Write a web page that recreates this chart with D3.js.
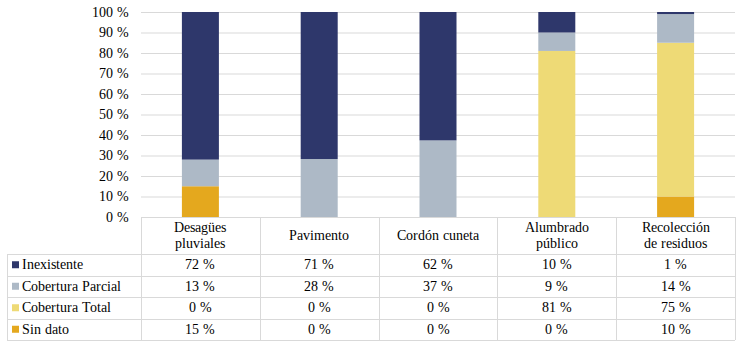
<!DOCTYPE html>
<html lang="es">
<head>
<meta charset="UTF-8">
<title>Cobertura de servicios</title>
<script src="https://cdn.jsdelivr.net/npm/d3@7"></script>
<style>
  @font-face { font-family: "ChartSerif"; src: local("Liberation Serif"), local("LiberationSerif-Regular"), local("DejaVu Serif"), local("DejaVuSerif"); }
  body { margin: 0; background: #fff; }
</style>
</head>
<body>
<svg width="738" height="353"></svg>
<script>
// categorias (dos lineas en la cabecera de la tabla)
var categories = ['Desagües pluviales', 'Pavimento', 'Cordón cuneta', 'Alumbrado público', 'Recolección de residuos'];
var headerLines = [['Desagües', 'pluviales'], ['Pavimento'], ['Cordón cuneta'], ['Alumbrado', 'público'], ['Recolección', 'de residuos']];
var seriesNames = ['Inexistente', 'Cobertura Parcial', 'Cobertura Total', 'Sin dato'];
var inexistente = [72, 71, 62, 10, 1];
var coberturaParcial = [13, 28, 37, 9, 14];
var coberturaTotal = [0, 0, 0, 81, 75];
var sinDato = [15, 0, 0, 0, 10];
var yTicks = [0, 10, 20, 30, 40, 50, 60, 70, 80, 90, 100];
var colors = ['#2e376b', '#adb9c6', '#eeda76', '#e4a81e'];

var seriesValues = [inexistente, coberturaParcial, coberturaTotal, sinDato];

var svg = d3.select('svg');
var plotLeft = 141, plotRight = 735, plotTop = 12, plotBottom = 217;
var tableLeft = 7;
var headerBottom = 254, rowH = 21.5;
var fontStack = 'ChartSerif, "Liberation Serif", "DejaVu Serif", serif';

var x = d3.scaleBand().domain(categories).range([plotLeft, plotRight]).paddingInner(0).paddingOuter(0);
var y = d3.scaleLinear().domain([0, 100]).range([plotBottom, plotTop]);
var barW = 37;

function label(sel) {
  return sel.style('font-family', fontStack).style('fill', '#000');
}

// lineas de cuadricula
svg.append('g').selectAll('line').data(yTicks.filter(function(d){ return d > 0; })).enter()
  .append('line')
  .attr('x1', plotLeft).attr('x2', plotRight)
  .attr('y1', function(d){ return y(d) + 0.5; }).attr('y2', function(d){ return y(d) + 0.5; })
  .attr('stroke', '#d9d9d9').attr('stroke-width', 1);

// etiquetas eje y
svg.append('g').selectAll('text').data(yTicks).enter()
  .append('text')
  .attr('x', 129).attr('y', function(d){ return y(d) + 4.5; })
  .attr('text-anchor', 'end').style('font-size', '13.5px')
  .call(label)
  .text(function(d){ return d + ' %'; });

// datos apilados al 100 %: de abajo hacia arriba Sin dato, Total, Parcial, Inexistente
var table = categories.map(function(c, i){
  var o = { cat: c };
  seriesNames.forEach(function(s, j){ o[s] = seriesValues[j][i]; });
  return o;
});
var stack = d3.stack().keys(seriesNames.slice().reverse()).offset(d3.stackOffsetExpand);
var stacked = stack(table);

svg.append('g').selectAll('g').data(stacked).enter()
  .append('g')
  .attr('fill', function(d){ return colors[seriesNames.indexOf(d.key)]; })
  .selectAll('rect').data(function(d){ return d; }).enter()
  .append('rect')
  .attr('x', function(d){ return x(d.data.cat) + x.bandwidth() / 2 - barW / 2; })
  .attr('width', barW)
  .attr('y', function(d){ return y(d[1] * 100); })
  .attr('height', function(d){ return y(d[0] * 100) - y(d[1] * 100); });

// tabla de datos
var grid = svg.append('g').attr('stroke', '#d9d9d9').attr('stroke-width', 1);
var tableBottom = headerBottom + rowH * 4;
grid.append('line').attr('x1', plotLeft).attr('x2', plotRight).attr('y1', plotBottom + 0.5).attr('y2', plotBottom + 0.5);
for (var r = 0; r <= 4; r++) {
  var yy = Math.round(headerBottom + r * rowH) + 0.5;
  grid.append('line').attr('x1', tableLeft).attr('x2', plotRight).attr('y1', yy).attr('y2', yy);
}
grid.append('line').attr('x1', tableLeft + 0.5).attr('x2', tableLeft + 0.5).attr('y1', headerBottom).attr('y2', tableBottom);
categories.forEach(function(c){
  var xx = Math.round(x(c)) + 0.5;
  grid.append('line').attr('x1', xx).attr('x2', xx).attr('y1', plotBottom).attr('y2', tableBottom);
});
grid.append('line').attr('x1', plotRight + 0.5).attr('x2', plotRight + 0.5).attr('y1', plotBottom).attr('y2', tableBottom);

// cabecera
categories.forEach(function(c, i){
  var lines = headerLines[i];
  var cx = x(c) + x.bandwidth() / 2;
  var cy = (plotBottom + headerBottom) / 2;
  lines.forEach(function(l, k){
    svg.append('text')
      .attr('x', cx)
      .attr('y', cy + 4.5 + (k - (lines.length - 1) / 2) * 16)
      .attr('text-anchor', 'middle').style('font-size', '14px')
      .call(label)
      .text(l);
  });
});

// filas
seriesNames.forEach(function(s, j){
  var cy = headerBottom + j * rowH + rowH / 2;
  svg.append('rect').attr('x', 12).attr('y', cy - 3.5).attr('width', 7).attr('height', 7).attr('fill', colors[j]);
  svg.append('text').attr('x', 22).attr('y', cy + 4.5).style('font-size', '14px').call(label).text(s);
  categories.forEach(function(c, i){
    svg.append('text')
      .attr('x', x(c) + x.bandwidth() / 2).attr('y', cy + 4.5)
      .attr('text-anchor', 'middle').style('font-size', '14px')
      .call(label)
      .text(seriesValues[j][i] + ' %');
  });
});
</script>
</body>
</html>
